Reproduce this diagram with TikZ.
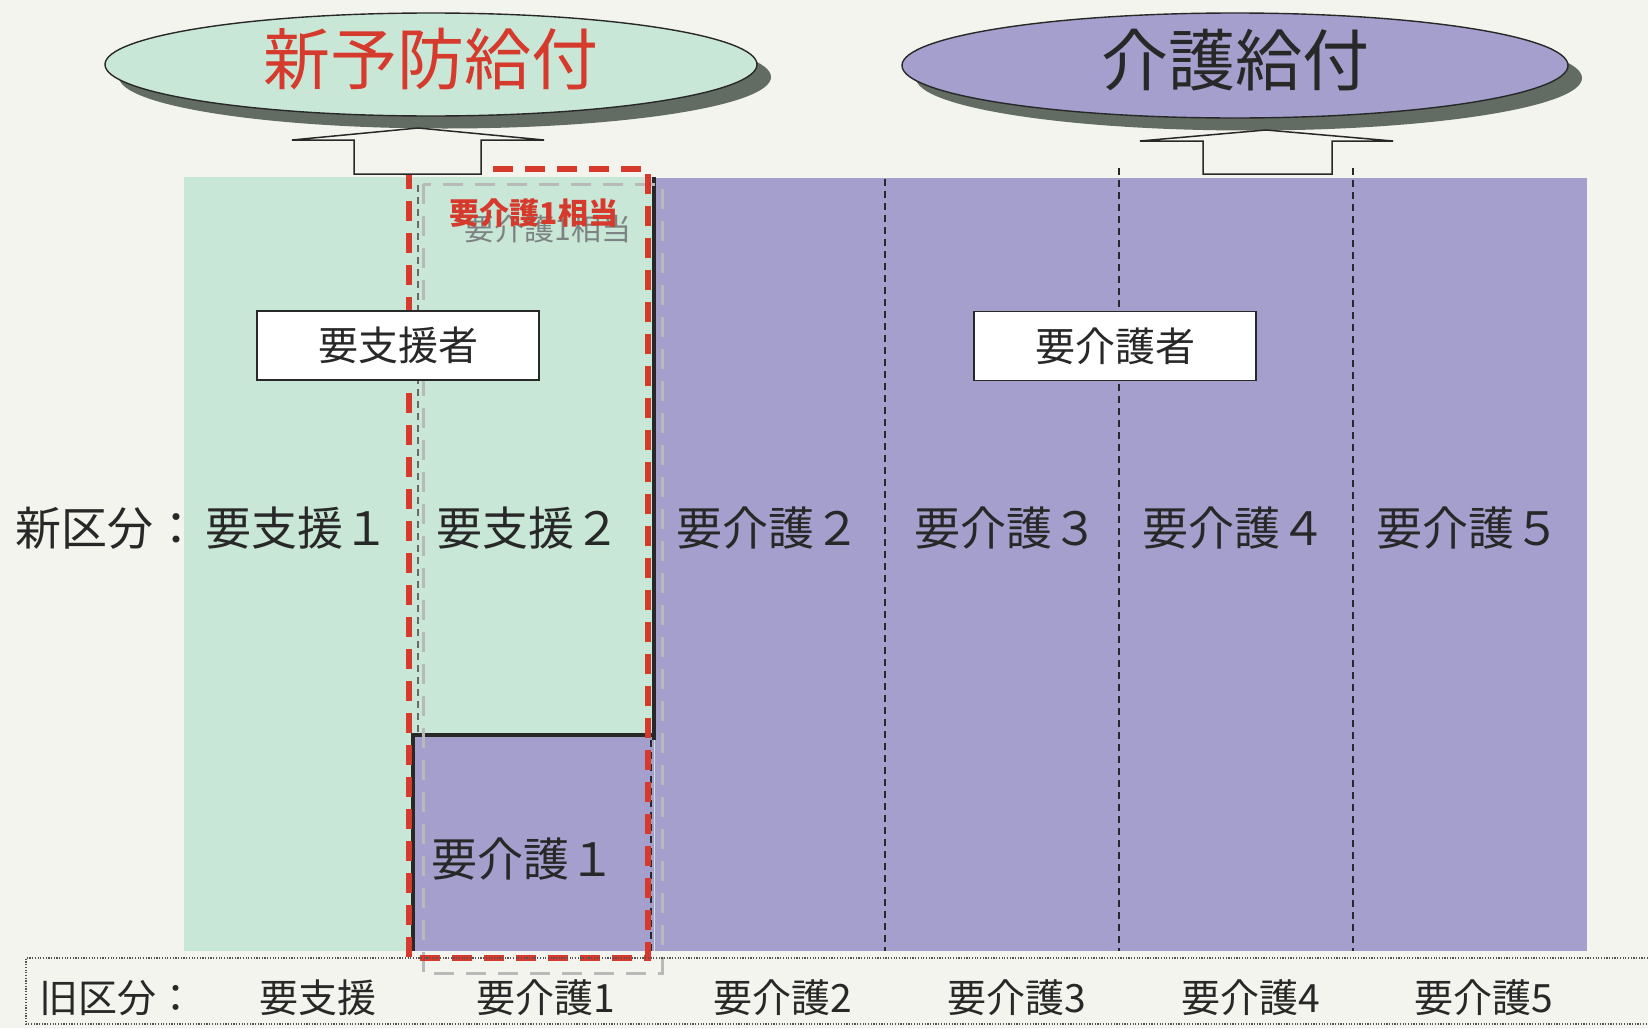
\documentclass[tikz,border=0pt]{standalone}
\usepackage{fontspec}
\setmainfont{Noto Sans CJK JP}
\usetikzlibrary{shapes.geometric}

\definecolor{paper}{RGB}{243,244,237}
\definecolor{mintgreen}{RGB}{200,231,215}
\definecolor{lilac}{RGB}{164,159,204}
\definecolor{shadowgray}{RGB}{98,108,98}
\definecolor{redline}{RGB}{214,58,44}
\definecolor{ink}{RGB}{40,40,40}
\definecolor{ghost}{RGB}{125,130,130}

\begin{document}
\begin{tikzpicture}[x=1pt, y=-1pt,
    title/.style={ellipse, draw=ink, line width=1.4pt, minimum width=652pt, minimum height=103pt, inner sep=0pt},
    titletext/.style={font=\fontsize{67}{70}\selectfont},
    lbl/.style={text=ink, font=\fontsize{46}{50}\selectfont},
    oldlbl/.style={text=ink, font=\fontsize{39}{42}\selectfont},
    groupbox/.style={draw=ink, fill=white, line width=1.5pt, minimum width=282pt, minimum height=69pt, inner sep=0pt, text=ink, font=\fontsize{40}{44}\selectfont},
    divider/.style={ink, line width=1.2pt, dash pattern=on 7pt off 5pt},
    redbox/.style={redline, line width=5.5pt, dash pattern=on 20pt off 12pt},
    uparrow/.style={draw=ink, fill=paper, line width=1.5pt, line join=miter}]

    \fill[paper] (0,0) rectangle (1648,1028);
    \useasboundingbox (0,0) rectangle (1648,1028);

    % columns
    \fill[mintgreen] (184,177) rectangle (655,951);
    \fill[lilac] (655,178) rectangle (1587,951);
    \fill[lilac] (413,735) rectangle (654,951);

    \draw[divider, ink!70] (418,185) -- (418,735);
    \draw[divider] (651,740) -- (651,951);
    \draw[divider] (885,179) -- (885,951);
    \draw[divider] (1119,168) -- (1119,951);
    \draw[divider] (1353,168) -- (1353,951);

    \draw[ink, line width=4pt] (654,177) -- (654,740);
    \draw[ink, line width=4pt] (413,951) -- (413,735) -- (656,735);

    % red frame and its grey copy
    \draw[ghost!55, line width=3pt, dash pattern=on 20pt off 12pt] (423,184) rectangle (662,973);
    \draw[redbox] (409,169) rectangle (648,958);

    % old division strip
    \draw[ink!80, line width=1.2pt, dash pattern=on 1.2pt off 1.5pt] (1648,958) -- (26,958) -- (26,1024) -- (1648,1024);

    % benefit ellipses
    \fill[shadowgray] (445,77) ellipse [x radius=326pt, y radius=51.5pt];
    \node[title, fill=mintgreen] (prevent) at (431,64.5) {};
    \node[titletext, text=redline] (preventtxt) at (431,59) {新予防給付};
    \fill[shadowgray] (1249,78) ellipse [x radius=333pt, y radius=52.5pt];
    \node[title, fill=lilac, minimum width=666pt, minimum height=105pt] (care) at (1235,65.5) {};
    \node[titletext, text=ink] (caretxt) at (1235,60) {介護給付};

    \draw[uparrow] (354,174) -- (354,140) -- (292,140) -- (418,128) -- (544,140) -- (481,140) -- (481,174) -- cycle;
    \draw[uparrow] (1203,174) -- (1203,141) -- (1140,141) -- (1266,130) -- (1393,141) -- (1332,141) -- (1332,174) -- cycle;

    % group boxes
    \node[groupbox] (support) at (398,345.5) {要支援者};
    \node[groupbox] (needcare) at (1115,346) {要介護者};

    \node[text=ghost, font=\fontsize{30}{34}\selectfont] (equivghost) at (548,229) {要介護1相当};
    \node[text=redline, font=\fontsize{30}{34}\selectfont\bfseries] (equiv) at (534,213) {要介護1相当};

    % new division
    \node[lbl, anchor=west] (newhead) at (12,528) {新区分：};
    \node[lbl] (n1) at (297,528) {要支援１};
    \node[lbl] (n2) at (528,528) {要支援２};
    \node[lbl] (n3) at (768,528) {要介護２};
    \node[lbl] (n4) at (1006,528) {要介護３};
    \node[lbl] (n5) at (1234,528) {要介護４};
    \node[lbl] (n6) at (1468,528) {要介護５};
    \node[lbl] (care1) at (523,859) {要介護１};

    % old division
    \node[oldlbl, anchor=west] (oldhead) at (36,998) {旧区分：};
    \node[oldlbl] (o1) at (318,998) {要支援};
    \node[oldlbl] (o2) at (546,998) {要介護1};
    \node[oldlbl] (o3) at (783,998) {要介護2};
    \node[oldlbl] (o4) at (1017,998) {要介護3};
    \node[oldlbl] (o5) at (1251,998) {要介護4};
    \node[oldlbl] (o6) at (1484,998) {要介護5};
\end{tikzpicture}
\end{document}
